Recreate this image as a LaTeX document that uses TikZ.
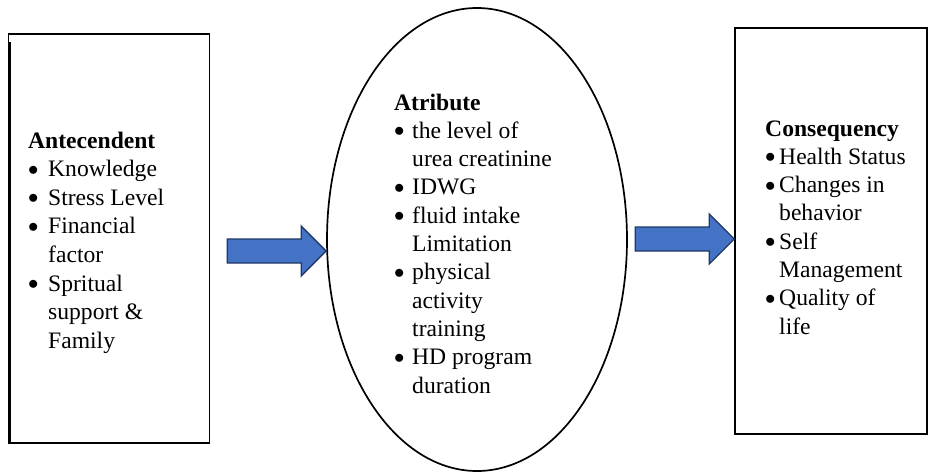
\documentclass[tikz,border=0pt]{standalone}
\usepackage{fontspec}
\setmainfont{Liberation Serif}
\usetikzlibrary{calc,shapes.geometric}
\definecolor{arrowblue}{HTML}{4472C4}
\definecolor{arrowedge}{HTML}{203864}
\newcommand{\bitem}[2]{\makebox[#1][l]{\raisebox{1.5pt}{\fontsize{21pt}{21pt}\selectfont$\bullet$}}#2}
\newcommand{\cont}[2]{\hspace*{#1}#2}
\begin{document}
\begin{tikzpicture}[x=1pt,y=-1pt,
  framebox/.style={draw=black,line width=1.4pt,inner sep=0pt},
  txt/.style={anchor=base west,inner sep=0pt,font=\fontsize{23.6pt}{28.5pt}\selectfont},
  blockarrow/.style={fill=arrowblue,draw=arrowedge,line width=1.3pt,line join=miter}]
\useasboundingbox (0,0) rectangle (928,472);
% frames
\node[framebox,minimum width=201pt,minimum height=409pt] (ante) at (109,238.5) {};
\draw[line width=3pt] ($(ante.north west)+(1.5,9)$) -- ($(ante.south west)+(1.5,0)$);
\node[draw=black,ellipse,line width=1.7pt,inner sep=0pt,minimum width=300pt,minimum height=463pt] (attr) at (477,239.5) {};
\node[framebox,minimum width=192pt,minimum height=406pt] (cons) at (831,231) {};
% texts
\node[txt] (anteT) at (28,148) {\parbox[t]{180pt}{\raggedright\baselineskip=28.6pt
\textbf{Antecendent}\\
\bitem{20pt}{Knowledge}\\
\bitem{20pt}{Stress Level}\\
\bitem{20pt}{Financial}\\
\cont{20pt}{factor}\\
\bitem{20pt}{Spritual}\\
\cont{20pt}{support \&}\\
\cont{20pt}{Family}}};
\node[txt] (attrT) at (394,110) {\parbox[t]{220pt}{\raggedright\baselineskip=28.3pt
\textbf{Atribute}\\
\bitem{18pt}{the level of}\\
\cont{18pt}{urea creatinine}\\
\bitem{18pt}{IDWG}\\
\bitem{18pt}{fluid intake}\\
\cont{18pt}{Limitation}\\
\bitem{18pt}{physical}\\
\cont{18pt}{activity}\\
\cont{18pt}{training}\\
\bitem{18pt}{HD program}\\
\cont{18pt}{duration}}};
\node[txt] (consT) at (765,136) {\parbox[t]{160pt}{\raggedright\baselineskip=28.3pt
\textbf{Consequency}\\
\bitem{14pt}{Health Status}\\
\bitem{14pt}{Changes in}\\
\cont{14pt}{behavior}\\
\bitem{14pt}{Self}\\
\cont{14pt}{Management}\\
\bitem{14pt}{Quality of}\\
\cont{14pt}{life}}};
% block arrows
\coordinate (tipA) at ($(attr.west)+(0,11.5)$);
\coordinate (tipB) at ($(cons.west)+(0,8)$);
\draw[blockarrow] (tipA) -- ++(-25,-25) -- ++(0,13) -- ++(-74,0) -- ++(0,24) -- ++(74,0) -- ++(0,13) -- cycle;
\draw[blockarrow] (tipB) -- ++(-25,-25) -- ++(0,13) -- ++(-74,0) -- ++(0,24) -- ++(74,0) -- ++(0,13) -- cycle;
\end{tikzpicture}
\end{document}
